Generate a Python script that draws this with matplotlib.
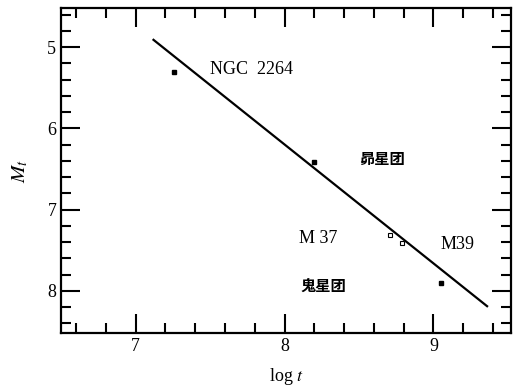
import numpy as np
import matplotlib.pyplot as plt
from matplotlib.ticker import MultipleLocator

# 星团年龄与转向点星等
log_t = [7.26, 8.20, 8.71, 8.79, 9.05]
M_t = [5.30, 6.41, 7.31, 7.41, 7.91]

# 拟合直线端点
fit_x = [7.12, 9.36]
fit_y = [4.91, 8.19]

labels = ["NGC  2264", "昴星团", "M 37", "M39", "鬼星团"]
label_x = [7.50, 8.50, 8.10, 9.05, 8.11]
label_y = [5.27, 6.38, 7.36, 7.43, 7.94]

plt.rcParams['font.family'] = ['Liberation Serif', 'Noto Sans CJK SC']
plt.rcParams['mathtext.fontset'] = 'stix'

fig = plt.figure(figsize=(5.14, 3.89), dpi=100)
ax = fig.add_axes([0.119, 0.144, 0.875, 0.835])

ax.plot(fit_x, fit_y, color='black', lw=1.6)
ax.plot(log_t[:2] + log_t[4:], M_t[:2] + M_t[4:], 's', color='black', ms=3.5)
ax.plot(log_t[2:4], M_t[2:4], 's', mfc='white', mec='black', ms=3, mew=0.8)

for s, x, y in zip(labels, label_x, label_y):
    if s.isascii():
        ax.text(x, y, s, fontsize=13, va='center', ha='left')
    else:
        ax.text(x, y, s, fontsize=11, va='center', ha='left',
                family=['Noto Sans CJK SC'], fontweight='bold')

ax.set_xlim(6.5, 9.52)
ax.set_ylim(8.52, 4.52)
ax.xaxis.set_major_locator(MultipleLocator(1))
ax.xaxis.set_minor_locator(MultipleLocator(0.2))
ax.yaxis.set_major_locator(MultipleLocator(1))
ax.yaxis.set_minor_locator(MultipleLocator(0.2))
ax.tick_params(which='both', direction='in', top=True, right=True, width=1.5, labelsize=13)
ax.tick_params(which='major', length=14)
ax.tick_params(which='minor', length=7)
for sp in ax.spines.values():
    sp.set_linewidth(1.6)

ax.set_xlabel(r"log $t$", fontsize=13, labelpad=8)
ax.set_ylabel(r"$M_t$", fontsize=15, labelpad=12)

fig.savefig("out.png", dpi=100)
